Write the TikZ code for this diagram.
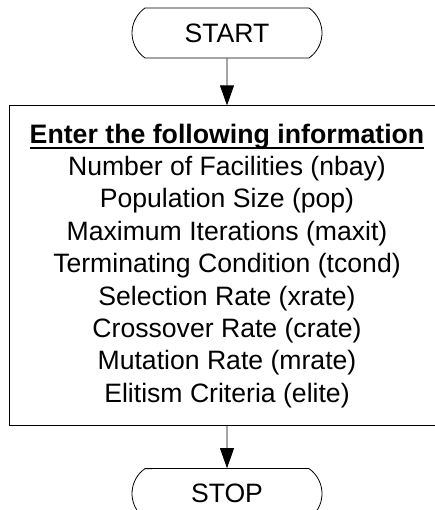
\documentclass[tikz,border=0pt]{standalone}
\usepackage{fontspec}
\setmainfont{Liberation Sans}
\usetikzlibrary{positioning}
\usetikzlibrary{arrows.meta,shapes.misc}

\newcommand{\ulbold}[1]{\setbox0\hbox{\fontsize{26.7}{32.4}\selectfont\bfseries #1}\rlap{\rule[-5.8pt]{\wd0}{1.5pt}}\box0}

\begin{document}
\begin{tikzpicture}[x=1pt,y=1pt,
    term/.style={draw,line width=0.8pt,rounded rectangle,rounded rectangle arc length=110,
        minimum width=190pt,minimum height=50pt,inner sep=0pt,font=\fontsize{26.6}{32.4}\selectfont},
    inbox/.style={draw,line width=0.8pt,rectangle,minimum width=436pt,minimum height=320pt,
        inner sep=0pt,align=center,font=\fontsize{26.6}{32.4}\selectfont},
    flow/.style={line width=0.8pt,-{Triangle[length=20pt,width=14pt]}}]
\useasboundingbox (0,0) rectangle (434,510);

%start and stop
\node[term] (start) at (227,477) {START};
\node[inbox,below=47pt of start] (info) {\ulbold{Enter the following information}\\
Number of Facilities (nbay)\\
Population Size (pop)\\
Maximum Iterations (maxit)\\
Terminating Condition (tcond)\\
Selection Rate (xrate)\\
Crossover Rate (crate)\\
Mutation Rate (mrate)\\
Elitism Criteria (elite)};
\node[term,below=42pt of info] (stop) {STOP};

%arrows
\draw[flow](start)--(info);
\draw[flow](info)--(stop);
\end{tikzpicture}
\end{document}
